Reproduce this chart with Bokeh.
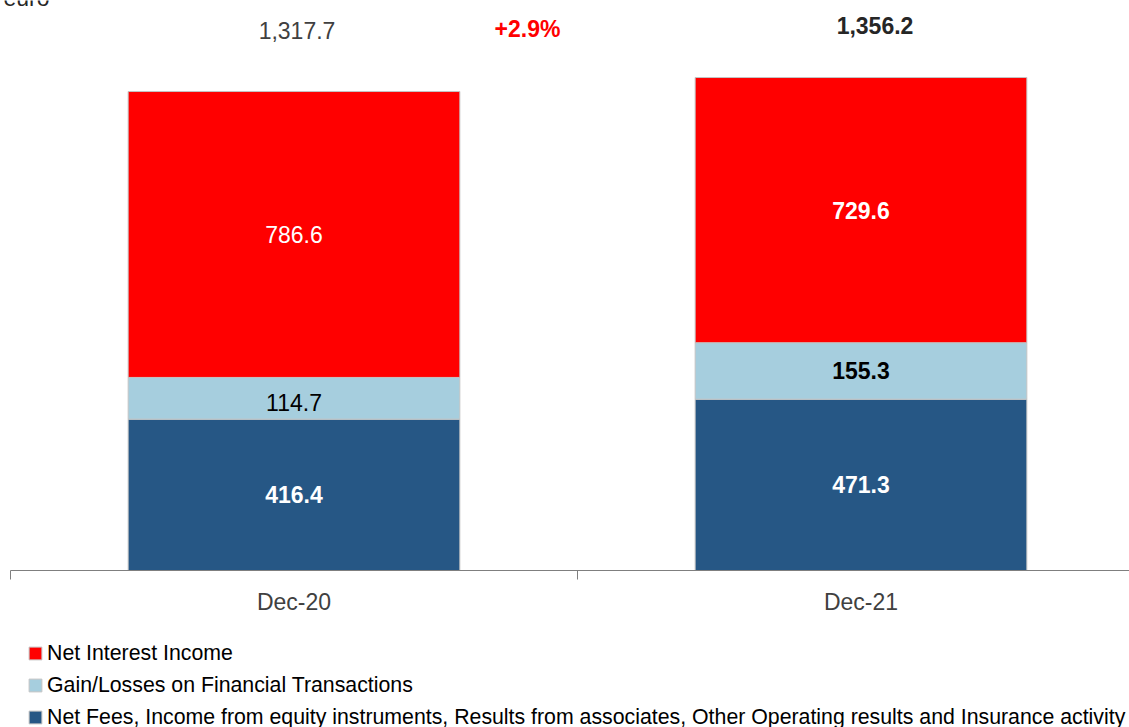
from bokeh.plotting import figure
from bokeh.models import ColumnDataSource, Range1d, FixedTicker, Legend, LegendItem, Label
from bokeh.core.properties import value
from bokeh.embed import file_html
from bokeh.resources import INLINE

# ---------------- data ----------------
categories = ["Dec-20", "Dec-21"]
net_fees = [416.4, 471.3]
gains = [114.7, 155.3]
net_interest = [786.6, 729.6]
series_names = [
    "Net Fees, Income from equity instruments, Results from associates, Other Operating results and Insurance activity",
    "Gain/Losses on Financial Transactions",
    "Net Interest Income",
]
unit_label = "euro"

# ---------------- layout / styles ----------------
W, H = 1129, 727
X0 = 10          # px of category axis start
CAT_PX = 567     # px per category
BASE_PX = 570    # px of zero line from top
PX_PER_UNIT = 0.3635

FONT = "Liberation Sans"
colors = ["#265785", "#A6CEDE", "#FF0000"]
label_colors = ["white", "black", "white"]
label_styles = [["bold", "normal", "normal"], ["bold", "bold", "bold"]]
total_styles = ["normal", "bold"]
total_colors = ["#404040", "#262626"]
total_y = [1485, 1499]
total_dx = [3, 14]

xs = [i + 0.5 for i in range(len(categories))]
totals = [a + b + c for a, b, c in zip(net_fees, gains, net_interest)]
growth = (totals[1] / totals[0] - 1) * 100

src = ColumnDataSource(dict(x=xs, fees=net_fees, gains=gains, nii=net_interest))

p = figure(width=W, height=H, output_backend="svg", toolbar_location=None,
           x_range=Range1d(-X0 / CAT_PX, (W - X0) / CAT_PX),
           y_range=Range1d(-(H - BASE_PX) / PX_PER_UNIT, BASE_PX / PX_PER_UNIT),
           y_axis_location=None,
           min_border_left=0, min_border_right=0, min_border_top=0, min_border_bottom=0)
p.outline_line_color = None
p.xgrid.visible = False
p.ygrid.visible = False
p.background_fill_color = "white"

rs = p.vbar_stack(["fees", "gains", "nii"], x="x", width=0.585, source=src,
                  fill_color=colors, line_color="#c4c4c4", line_width=1)

# segment labels
lx, ly, lt, lc, ls, loff = [], [], [], [], [], []
for i in range(len(categories)):
    base = 0.0
    for j, vals in enumerate([net_fees, gains, net_interest]):
        v = vals[i]
        lx.append(xs[i])
        ly.append(base + v / 2)
        lt.append(f"{v:,.1f}")
        lc.append(label_colors[j])
        ls.append(label_styles[i][j])
        loff.append(4 if (i == 0 and j == 1) else 0)
        base += v
lsrc = ColumnDataSource(dict(x=lx, y=ly, t=lt, c=lc, s=ls, o=loff))
p.text(x="x", y="y", y_offset="o", text="t", text_color="c", text_font_style="s", source=lsrc,
       text_align="center", text_baseline="middle",
       text_font=value(FONT), text_font_size="23px")

# totals
tsrc = ColumnDataSource(dict(x=xs, y=total_y, dx=total_dx, t=[f"{v:,.1f}" for v in totals],
                             s=total_styles, c=total_colors))
p.text(x="x", y="y", x_offset="dx", text="t", text_font_style="s", text_color="c", source=tsrc,
       text_align="center", text_baseline="middle",
       text_font=value(FONT), text_font_size="23px")

# growth
p.add_layout(Label(x=1.0, y=1491, x_offset=-50, text=f"+{growth:.1f}%",
                   text_color="#FF0000", text_font_style="bold", text_font=FONT,
                   text_font_size="23px", text_align="center", text_baseline="middle"))

# unit label (cut at the top edge, like the reference)
p.text(x=[-7 / CAT_PX], y=[(BASE_PX + 3) / PX_PER_UNIT], text=[unit_label],
       text_color="#262626", text_font=value(FONT), text_font_size="23px",
       text_align="left", text_baseline="middle")

# x axis at zero line
ax = p.xaxis[0]
ax.fixed_location = 0
ax.bounds = (0, len(categories))
ax.ticker = FixedTicker(ticks=xs, minor_ticks=list(range(len(categories) + 1)))
ax.major_label_overrides = {x: c for x, c in zip(xs, categories)}
ax.major_tick_line_color = None
ax.major_tick_in = 0
ax.major_tick_out = 0
ax.minor_tick_line_color = "#7f7f7f"
ax.minor_tick_in = 0
ax.minor_tick_out = 9
ax.axis_line_color = "#7f7f7f"
ax.major_label_standoff = 9
ax.major_label_text_font = FONT
ax.major_label_text_font_size = "23px"
ax.major_label_text_color = "#404040"

# legend
items = [LegendItem(label=series_names[k], renderers=[rs[k]]) for k in [2, 1, 0]]
legend = Legend(items=items, location=(27, -2.5), orientation="vertical",
                glyph_width=16, glyph_height=16, label_height=16, spacing=7,
                padding=0, margin=0, border_line_color=None, background_fill_alpha=0,
                label_text_font=FONT, label_text_font_size="21.3px",
                label_text_color="#000000", label_standoff=4)
p.add_layout(legend)

open("out.html", "w").write(file_html(p, INLINE))
